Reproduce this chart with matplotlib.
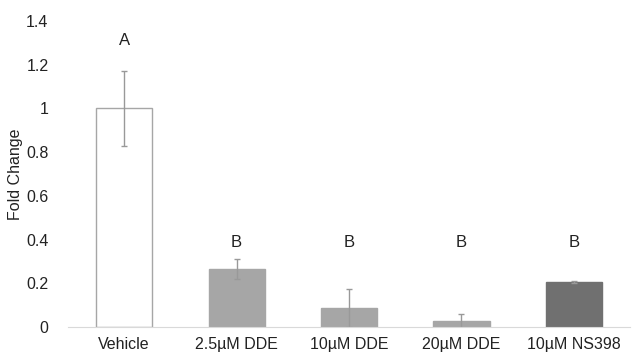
import matplotlib
matplotlib.use('Agg')
import matplotlib.pyplot as plt

plt.rcParams['font.family'] = ['Liberation Sans', 'DejaVu Sans']

# dữ liệu
groups = ['Vehicle', '2.5µM DDE', '10µM DDE', '20µM DDE', '10µM NS398']
fold = [1.0, 0.265, 0.087, 0.028, 0.206]
err = [0.17, 0.045, 0.085, 0.032, 0.003]
letters = ['A', 'B', 'B', 'B', 'B']
letter_y = [1.31, 0.385, 0.385, 0.385, 0.385]
colors = ['white', '#a6a6a6', '#a6a6a6', '#a6a6a6', '#707070']
edges = ['#a6a6a6', '#a6a6a6', '#a6a6a6', '#a6a6a6', '#707070']

fig = plt.figure(figsize=(6.33, 3.56), dpi=100)
ax = fig.add_axes([68/633, 29/356, 562/633, 306/356])

x = range(len(groups))
ax.bar(x, fold, width=0.5, color=colors, edgecolor=edges, linewidth=1.0,
       yerr=err, error_kw=dict(ecolor='#999999', elinewidth=1, capsize=2, capthick=1))

for i, (t, ly) in enumerate(zip(letters, letter_y)):
    ax.text(i, ly, t, ha='center', va='center', fontsize=12, color='#222222')

ax.set_xlim(-0.5, len(groups) - 0.5)
ax.set_ylim(0, 1.4)
ax.set_yticks([0, 0.2, 0.4, 0.6, 0.8, 1.0, 1.2, 1.4])
ax.set_yticklabels(['0', '0.2', '0.4', '0.6', '0.8', '1', '1.2', '1.4'])
ax.set_xticks(list(x))
ax.set_xticklabels(groups)
ax.tick_params(axis='both', length=0, labelsize=11.5, colors='#222222')
ax.tick_params(axis='y', pad=14)
ax.tick_params(axis='x', pad=7)
ax.set_ylabel('Fold Change', fontsize=11.5, color='#222222', labelpad=2)

for s in ['top', 'right', 'left']:
    ax.spines[s].set_visible(False)
ax.spines['bottom'].set_color('#d9d9d9')

fig.savefig('out.png', dpi=100)
